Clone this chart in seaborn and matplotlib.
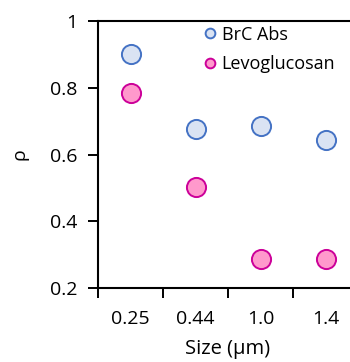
import matplotlib
matplotlib.use("Agg")
import matplotlib.pyplot as plt
from matplotlib.ticker import FixedLocator
from matplotlib.lines import Line2D
import seaborn as sns
import pandas as pd

sizes = ["0.25", "0.44", "1.0", "1.4"]
brc_abs = [0.90, 0.675, 0.685, 0.643]
levoglucosan = [0.785, 0.504, 0.286, 0.286]
y_ticks = [0.2, 0.4, 0.6, 0.8, 1.0]
y_tick_labels = ["0.2", "0.4", "0.6", "0.8", "1"]

sns.set_theme(style="ticks")
plt.rcParams["font.family"] = ["Open Sans", "DejaVu Sans"]
plt.rcParams["text.color"] = "#000000"
plt.rcParams["axes.labelcolor"] = "#000000"
plt.rcParams["xtick.color"] = "#000000"
plt.rcParams["ytick.color"] = "#000000"

fig = plt.figure(figsize=(3.5, 3.62), dpi=100)
ax = fig.add_axes([0.28, 0.2044, 0.7429, 0.7376])

df_brc = pd.DataFrame({"Size": sizes, "rho": brc_abs})
df_levo = pd.DataFrame({"Size": sizes, "rho": levoglucosan})

sns.scatterplot(data=df_brc, x="Size", y="rho", ax=ax, s=190,
                color="#dae3f3", edgecolor="#4472c4", linewidth=1.4, zorder=3)
sns.scatterplot(data=df_levo, x="Size", y="rho", ax=ax, s=190,
                color="#ff99cc", edgecolor="#cc0099", linewidth=1.4, zorder=3)

ax.set_xlim(-0.5, len(sizes) - 0.5)
ax.set_ylim(0.2, 1.0)
ax.xaxis.set_major_locator(FixedLocator([i - 0.5 for i in range(len(sizes) + 1)]))
ax.xaxis.set_minor_locator(FixedLocator(list(range(len(sizes)))))
ax.set_xticklabels([], minor=False)
ax.set_xticklabels(sizes, minor=True)
ax.tick_params(axis="x", which="minor", length=0, pad=16, labelsize=14, colors="#000000")
ax.tick_params(axis="x", which="major", length=7, width=1.4, direction="out", color="#000000")
ax.set_yticks(y_ticks)
ax.set_yticklabels(y_tick_labels)
ax.tick_params(axis="y", length=7, width=1.4, direction="out", labelsize=14, pad=8, colors="#000000")

for side in ["left", "bottom", "top"]:
    ax.spines[side].set_visible(True)
    ax.spines[side].set_linewidth(1.5)
    ax.spines[side].set_color("#000000")
ax.spines["right"].set_visible(False)

ax.set_xlabel("Size (μm)", fontsize=14.5, labelpad=8, color="#000000")
ax.set_ylabel("ρ", fontsize=14, labelpad=15, color="#000000")

handles = [
    Line2D([], [], marker="o", linestyle="none", markersize=7,
           markerfacecolor="#dae3f3", markeredgecolor="#4472c4", markeredgewidth=1.4),
    Line2D([], [], marker="o", linestyle="none", markersize=7,
           markerfacecolor="#ff99cc", markeredgecolor="#cc0099", markeredgewidth=1.4),
]
fig.legend(handles, ["BrC Abs", "Levoglucosan"], loc="upper left",
           bbox_to_anchor=(0.584, 0.929), frameon=False, fontsize=13,
           handletextpad=0.35, handlelength=0.6, labelspacing=0.62,
           borderaxespad=0, borderpad=0)

fig.savefig("out.png", dpi=100)
